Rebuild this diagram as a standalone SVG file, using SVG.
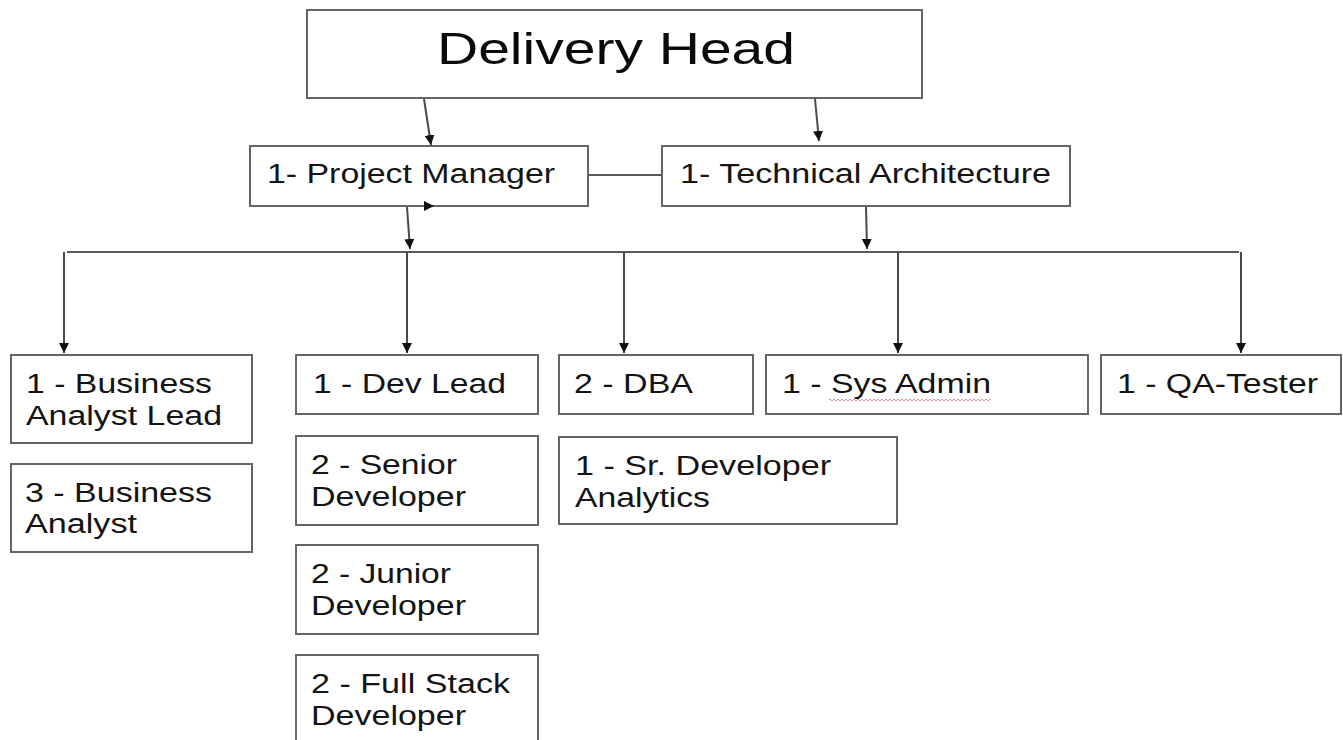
<svg xmlns="http://www.w3.org/2000/svg" width="1343" height="740" viewBox="0 0 1343 740">
  <style>
    .box { fill: #ffffff; stroke: #666666; stroke-width: 2; }
    .lbl { font-family: "Liberation Sans", Arial, sans-serif; font-size: 27px; fill: #141414; }
    .title { font-family: "Liberation Sans", Arial, sans-serif; font-size: 44px; fill: #0a0a0a; }
    .wire { fill: none; stroke: #5a5a5a; stroke-width: 2; }
    .arrow { fill: none; stroke: #4a4a4a; stroke-width: 2; marker-end: url(#head); }
  </style>
  <defs>
    <marker id="head" markerUnits="userSpaceOnUse" markerWidth="10" markerHeight="10" refX="10" refY="5" orient="auto">
      <path d="M0,0 L10,5 L0,10 z" fill="#111111"/>
    </marker>
    <pattern id="squiggle" patternUnits="userSpaceOnUse" width="4" height="4" x="0" y="398">
      <path d="M0,3 L2,1 L4,3" fill="none" stroke="#e38a8a" stroke-width="0.9"/>
    </pattern>
  </defs>
  <rect width="1343" height="740" fill="#ffffff"/>

  <g id="delivery-head">
    <rect class="box" x="307" y="10" width="615" height="88"/>
    <text class="title" x="437" y="64" textLength="358" lengthAdjust="spacingAndGlyphs">Delivery Head</text>
  </g>

  <g id="project-manager">
    <rect class="box" x="250" y="146" width="338" height="60"/>
    <text class="lbl" x="267" y="183" textLength="288" lengthAdjust="spacingAndGlyphs">1- Project Manager</text>
  </g>

  <g id="technical-architecture">
    <rect class="box" x="662" y="146" width="408" height="60"/>
    <text class="lbl" x="680" y="183" textLength="371" lengthAdjust="spacingAndGlyphs">1- Technical Architecture</text>
  </g>

  <g id="ba-lead">
    <rect class="box" x="11" y="355" width="241" height="88"/>
    <text class="lbl" x="26" y="393" textLength="186" lengthAdjust="spacingAndGlyphs">1 - Business</text>
    <text class="lbl" x="26" y="425" textLength="196" lengthAdjust="spacingAndGlyphs">Analyst Lead</text>
  </g>

  <g id="business-analyst">
    <rect class="box" x="11" y="464" width="241" height="88"/>
    <text class="lbl" x="25" y="502" textLength="187" lengthAdjust="spacingAndGlyphs">3 - Business</text>
    <text class="lbl" x="25" y="533" textLength="112" lengthAdjust="spacingAndGlyphs">Analyst</text>
  </g>

  <g id="dev-lead">
    <rect class="box" x="296" y="355" width="242" height="59"/>
    <text class="lbl" x="313" y="393" textLength="193" lengthAdjust="spacingAndGlyphs">1 - Dev Lead</text>
  </g>

  <g id="senior-developer">
    <rect class="box" x="296" y="436" width="242" height="89"/>
    <text class="lbl" x="311" y="474" textLength="146" lengthAdjust="spacingAndGlyphs">2 - Senior</text>
    <text class="lbl" x="311" y="506" textLength="155" lengthAdjust="spacingAndGlyphs">Developer</text>
  </g>

  <g id="junior-developer">
    <rect class="box" x="296" y="545" width="242" height="89"/>
    <text class="lbl" x="311" y="583" textLength="140" lengthAdjust="spacingAndGlyphs">2 - Junior</text>
    <text class="lbl" x="311" y="615" textLength="155" lengthAdjust="spacingAndGlyphs">Developer</text>
  </g>

  <g id="full-stack-developer">
    <rect class="box" x="296" y="655" width="242" height="95"/>
    <text class="lbl" x="311" y="693" textLength="199" lengthAdjust="spacingAndGlyphs">2 - Full Stack</text>
    <text class="lbl" x="311" y="725" textLength="155" lengthAdjust="spacingAndGlyphs">Developer</text>
  </g>

  <g id="dba">
    <rect class="box" x="559" y="355" width="194" height="59"/>
    <text class="lbl" x="574" y="393" textLength="119" lengthAdjust="spacingAndGlyphs">2 - DBA</text>
  </g>

  <g id="sr-developer-analytics">
    <rect class="box" x="559" y="437" width="338" height="87"/>
    <text class="lbl" x="575" y="475" textLength="256" lengthAdjust="spacingAndGlyphs">1 - Sr. Developer</text>
    <text class="lbl" x="575" y="507" textLength="135" lengthAdjust="spacingAndGlyphs">Analytics</text>
  </g>

  <g id="sys-admin">
    <rect class="box" x="766" y="355" width="322" height="59"/>
    <text class="lbl" x="782" y="393" textLength="209" lengthAdjust="spacingAndGlyphs">1 - Sys Admin</text>
    <rect x="829" y="398" width="162" height="4" fill="url(#squiggle)"/>
  </g>

  <g id="qa-tester">
    <rect class="box" x="1101" y="355" width="240" height="59"/>
    <text class="lbl" x="1117" y="393" textLength="201" lengthAdjust="spacingAndGlyphs">1 - QA-Tester</text>
  </g>

  <!-- connectors drawn last so arrowheads sit on top of box borders -->
  <g id="connectors">
    <path class="arrow" d="M424,99 L431,145"/>
    <path class="arrow" d="M815,99 L819,141"/>
    <path class="wire" d="M588,175 L662,175"/>
    <path class="arrow" d="M424,206 L434,206"/>
    <path class="arrow" d="M407,207 L410,249"/>
    <path class="arrow" d="M866,207 L867,249"/>
    <path class="wire" d="M67,252 L1239,252"/>
    <path class="arrow" d="M64,252 L64,353"/>
    <path class="arrow" d="M407,252 L407,353"/>
    <path class="arrow" d="M624,252 L624,353"/>
    <path class="arrow" d="M898,252 L898,353"/>
    <path class="arrow" d="M1241,252 L1241,353"/>
  </g>
</svg>
